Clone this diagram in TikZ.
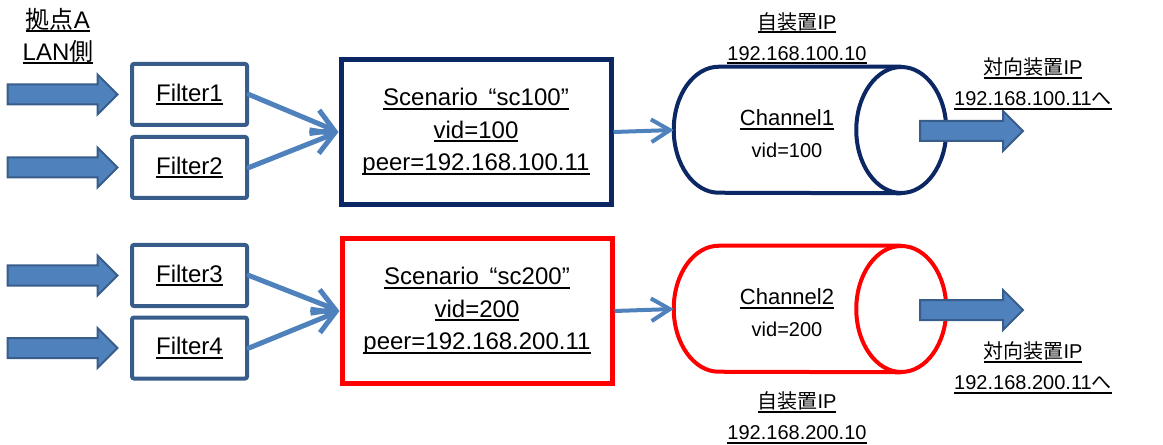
\documentclass[tikz,border=0pt]{standalone}
\usepackage{fontspec}
\setmainfont{Liberation Sans}
\newfontfamily\cjk{Noto Sans CJK JP}
\usepackage{xcolor}
\usepackage{tikz}
\usetikzlibrary{positioning,shapes.arrows,arrows.meta}
\definecolor{fillblue}{HTML}{4F81BD}
\definecolor{edgeblue}{HTML}{385D8A}
\definecolor{navyline}{HTML}{0B2764}
\definecolor{redline}{HTML}{FF0000}
\newcommand\undl[1]{\leavevmode\setbox0\hbox{#1}\rlap{\rule[-3pt]{\wd0}{1.5pt}}\box0}
\tikzset{
  inarrow/.style   = {single arrow, draw=edgeblue, fill=fillblue, line width=1.5pt,
                      minimum height=82.5pt, inner xsep=0pt, inner ysep=6.75pt,
                      single arrow head extend=7.5pt, single arrow tip angle=90},
  outarrow/.style  = {inarrow, minimum height=77.25pt},
  filterbox/.style = {draw=edgeblue, line width=3pt, rounded corners=1.5pt,
                      minimum width=86.25pt, minimum height=45.75pt, inner sep=0pt,
                      font=\fontsize{18}{24}\selectfont},
  scenbox/.style   = {line width=3.75pt, minimum width=202.5pt, minimum height=108.75pt,
                      align=center, font=\fontsize{18}{24.4}\selectfont},
  cylbody/.style   = {minimum width=204pt, minimum height=94.5pt, inner sep=0pt},
  cylline/.style   = {line width=3pt},
  cyltext/.style   = {align=center, font=\fontsize{16.5}{24}\selectfont},
  iplabel/.style   = {align=center, font=\fontsize{15}{23.25}\selectfont},
  link/.style      = {-{Straight Barb[length=16pt, width=19pt]}, draw=fillblue,
                      line width=3.75pt, line cap=round},
  link2/.style     = {-{Straight Barb[length=14pt, width=17pt]}, draw=fillblue,
                      line width=3pt},
}

\begin{document}
\begin{tikzpicture}[x=0.75pt, y=0.75pt]
    \useasboundingbox (0,0) rectangle (1163,-445);

    \node[align=center, font=\fontsize{18}{24}\selectfont] (lan) at (58,-36)
      {\undl{{\cjk 拠点}A}\\\undl{LAN{\cjk 側}}};

    % ---------------- filters
    \node[filterbox] (f1) at (189.5,-94.5)  {\undl{Filter1}};
    \node[filterbox] (f2) at (189.5,-167.5) {\undl{Filter2}};
    \node[filterbox] (f3) at (189.5,-275.5) {\undl{Filter3}};
    \node[filterbox] (f4) at (189.5,-348)   {\undl{Filter4}};

    \foreach \f in {f1,f2,f3,f4} {\node[inarrow, left=8.25pt of \f] (in\f) {};}

    % ---------------- scenarios
    \node[scenbox, draw=navyline] (sc1) at (476,-132)
      {\undl{Scenario\hspace{0.45em}“sc100”}\\\undl{vid=100}\\\undl{peer=192.168.100.11}};
    \node[scenbox, draw=redline] (sc2) at (477,-311)
      {\undl{Scenario\hspace{0.45em}“sc200”}\\\undl{vid=200}\\\undl{peer=192.168.200.11}};

    \foreach \a/\b in {f1/sc1, f2/sc1, f3/sc2, f4/sc2} {\draw[link] (\a.east) -- (\b.west);}

    % ---------------- channels
    \node[cylbody] (cy1) at (810,-130) {};
    \draw[cylline, draw=navyline, fill=white] ([xshift=-33.75pt]cy1.north east)
      -- ([xshift=33.75pt]cy1.north west)
      arc[start angle=90, end angle=270, x radius=33.75pt, y radius=47.25pt]
      -- ([xshift=-33.75pt]cy1.south east);
    \draw[cylline, draw=navyline] ([xshift=-33.75pt]cy1.east)
      ellipse[x radius=33.75pt, y radius=47.25pt];
    \node[cyltext] (ch1) at (787,-134)
      {\undl{Channel1}\\{\fontsize{15}{18}\selectfont vid=100}};

    \node[cylbody] (cy2) at (810,-309) {};
    \draw[cylline, draw=redline, fill=white] ([xshift=-33.75pt]cy2.north east)
      -- ([xshift=33.75pt]cy2.north west)
      arc[start angle=90, end angle=270, x radius=33.75pt, y radius=47.25pt]
      -- ([xshift=-33.75pt]cy2.south east);
    \draw[cylline, draw=redline] ([xshift=-33.75pt]cy2.east)
      ellipse[x radius=33.75pt, y radius=47.25pt];
    \node[cyltext] (ch2) at (787,-313)
      {\undl{Channel2}\\{\fontsize{15}{18}\selectfont vid=200}};

    \foreach \a/\b in {sc1/cy1, sc2/cy2} {\draw[link2] (\a.east) -- (\b.west);}

    \node[outarrow] (out1) at (966.5,-131) {};
    \node[outarrow] (out2) at (966.5,-310) {};

    % ---------------- addresses
    \node[iplabel] (own1) at (797,-38.5)
      {\undl{{\cjk 自装置}IP}\\\undl{192.168.100.10}};
    \node[iplabel] (peer1) at (1033,-84)
      {\undl{{\cjk 対向装置}IP}\\\undl{192.168.100.11{\cjk へ}}};
    \node[iplabel] (peer2) at (1033,-368)
      {\undl{{\cjk 対向装置}IP}\\\undl{192.168.200.11{\cjk へ}}};
    \node[iplabel] (own2) at (797,-418)
      {\undl{{\cjk 自装置}IP}\\\undl{192.168.200.10}};
\end{tikzpicture}
\end{document}
